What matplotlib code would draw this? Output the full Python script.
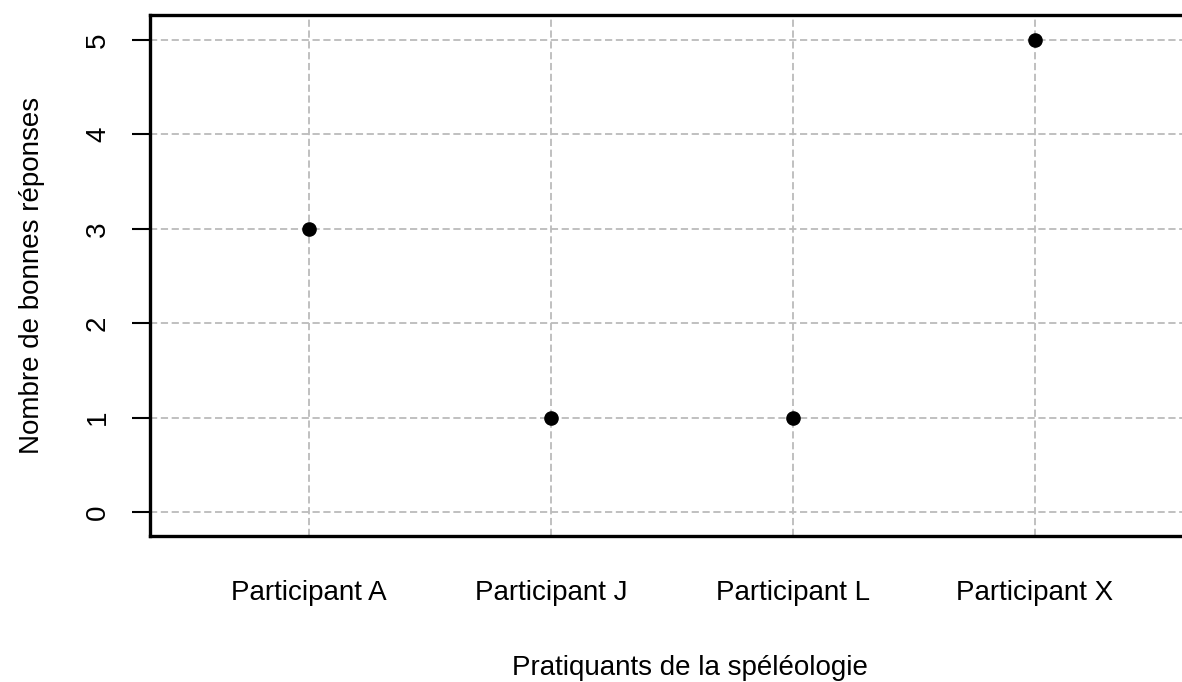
import matplotlib
matplotlib.use('Agg')
from matplotlib import pyplot as plt

participants = ['Participant A', 'Participant J', 'Participant L', 'Participant X']
bonnes_reponses = [3, 1, 1, 5]
y_ticks = [0, 1, 2, 3, 4, 5]

plt.rcParams['font.family'] = ['Liberation Sans', 'DejaVu Sans']

W, H = 1182, 682
fig = plt.figure(figsize=(W / 100, H / 100), dpi=100)
# axes box in pixels: left 150, top 15, bottom 536, right runs past the edge
left, top, bottom, right = 150, 15, 536, 1230
ax = fig.add_axes([left / W, 1 - bottom / H, (right - left) / W, (bottom - top) / H])

x = list(range(1, len(participants) + 1))
ax.plot(x, bonnes_reponses, 'o', color='black', markersize=9.5, zorder=3)

ax.set_xlim(1 - 159 / 242, 1 + (right - 309) / 242)
ax.set_ylim(-24 / 94.4, 5 + 25 / 94.4)

ax.set_xticks(x)
ax.set_xticklabels(participants, fontsize=20)
ax.set_yticks(y_ticks)
ax.set_yticklabels([str(v) for v in y_ticks], fontsize=20, rotation=90, va='center')
ax.tick_params(axis='x', length=0, pad=32)
ax.tick_params(axis='y', length=13, width=1.5, pad=15)

ax.grid(True, color='#bbbbbb', linestyle=(0, (4, 2)), linewidth=1.3)
ax.set_axisbelow(True)

for side in ['left', 'bottom', 'top']:
    ax.spines[side].set_linewidth(2.4)
ax.spines['right'].set_visible(False)

ax.set_xlabel('Pratiquants de la spéléologie', fontsize=20, labelpad=35)
ax.set_ylabel('Nombre de bonnes réponses', fontsize=20, labelpad=29)

fig.savefig('out.png', dpi=100)
